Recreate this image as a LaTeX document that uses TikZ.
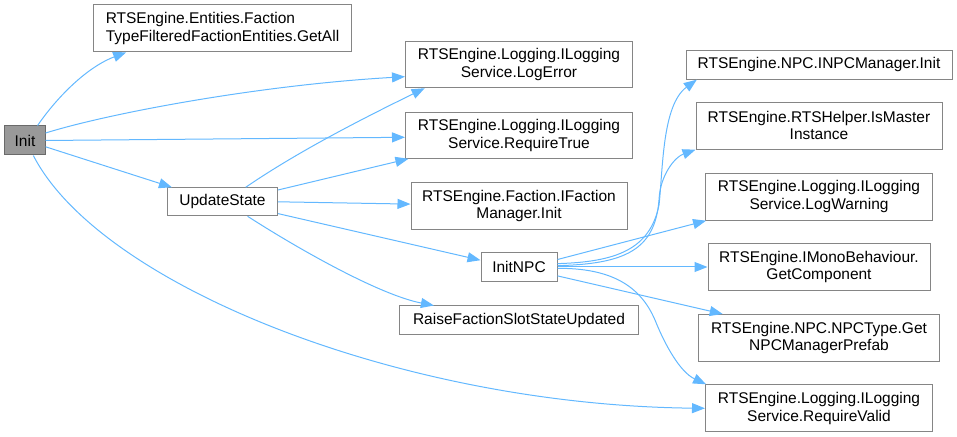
\documentclass[tikz,border=0pt]{standalone}
\usepackage{fontspec}
\setmainfont{Liberation Sans}
\usepackage{tikz}
\usetikzlibrary{arrows.meta}
\definecolor{edgeblue}{HTML}{63B8FF}
\definecolor{boxgray}{HTML}{858585}
\definecolor{rootgray}{HTML}{999999}

\begin{document}
\begin{tikzpicture}[
  x=1bp,y=-1bp,
  fn/.style={draw=boxgray,line width=1bp,fill=white,inner sep=0pt,align=center,font=\fontsize{15.5bp}{17.5bp}\selectfont},
  root/.style={fn,fill=rootgray,draw=boxgray!80!black},
  call/.style={-{Triangle[length=13bp,width=10bp]},line width=1bp,draw=edgeblue}
]
\useasboundingbox (0,0) rectangle (957,437);
\node[root,minimum width=40bp,minimum height=29bp] (init) at (25,140.5) {Init};
\node[fn,align=left,minimum width=258bp,minimum height=47bp] (getall) at (222.5,28.3) {RTSEngine.Entities.Faction\\TypeFilteredFactionEntities.GetAll};
\node[fn,minimum width=110bp,minimum height=28bp] (update) at (222.5,201.8) {UpdateState};
\node[fn,minimum width=227bp,minimum height=46bp] (logerror) at (519,64.7) {RTSEngine.Logging.ILogging\\Service.LogError};
\node[fn,minimum width=227bp,minimum height=46bp] (reqtrue) at (519,135.3) {RTSEngine.Logging.ILogging\\Service.RequireTrue};
\node[fn,minimum width=216bp,minimum height=47bp] (facinit) at (519,206) {RTSEngine.Faction.IFaction\\Manager.Init};
\node[fn,minimum width=76bp,minimum height=29bp] (initnpc) at (519,267) {InitNPC};
\node[fn,minimum width=239bp,minimum height=29bp] (raise) at (519,320.5) {RaiseFactionSlotStateUpdated};
\node[fn,minimum width=266bp,minimum height=29bp] (npcinit) at (819,64.7) {RTSEngine.NPC.INPCManager.Init};
\node[fn,minimum width=246bp,minimum height=47bp] (ismaster) at (819,125.7) {RTSEngine.RTSHelper.IsMaster\\Instance};
\node[fn,minimum width=227bp,minimum height=47bp] (logwarn) at (819,196.7) {RTSEngine.Logging.ILogging\\Service.LogWarning};
\node[fn,minimum width=222bp,minimum height=47bp] (getcomp) at (819,267) {RTSEngine.IMonoBehaviour.\\GetComponent};
\node[fn,minimum width=241bp,minimum height=47bp] (npctype) at (819,338) {RTSEngine.NPC.NPCType.Get\\NPCManagerPrefab};
\node[fn,minimum width=227bp,minimum height=47bp] (reqvalid) at (819,408.3) {RTSEngine.Logging.ILogging\\Service.RequireValid};
% calls from Init
\draw[call] (init.50) .. controls (55,100) and (85,68) .. (getall.194);
\draw[call] (init.20) .. controls (110,113) and (260,85) .. (logerror.186);
\draw[call] (init.east) -- (reqtrue.181);
\draw[call] (init.-17) -- (update.164);
\draw[call] (init.-61) .. controls (100,285) and (400,405) .. (reqvalid.west);
% calls from UpdateState
\draw[call] (update.32) .. controls (300,150) and (370,115) .. (logerror.194);
\draw[call] (update.12) -- (reqtrue.192);
\draw[call] (update.east) -- (facinit.179);
\draw[call] (update.-12) -- (initnpc.170);
\draw[call] (update.-30) .. controls (300,250) and (380,295) .. (raise.170);
% calls from InitNPC
\draw[call] (initnpc.5) .. controls (615,262) and (650,250) .. (659,205) .. controls (663,170) and (662,105) .. (npcinit.187);
\draw[call] (initnpc.2) .. controls (625,264) and (655,250) .. (659,200) .. controls (660,175) and (675,157) .. (ismaster.191);
\draw[call] (initnpc.11) -- (logwarn.192);
\draw[call] (initnpc.east) -- (getcomp.west);
\draw[call] (initnpc.-13) -- (npctype.166);
\draw[call] (initnpc.-2) .. controls (610,268) and (640,285) .. (655,320) .. controls (665,345) and (680,372) .. (reqvalid.168);
\end{tikzpicture}
\end{document}
